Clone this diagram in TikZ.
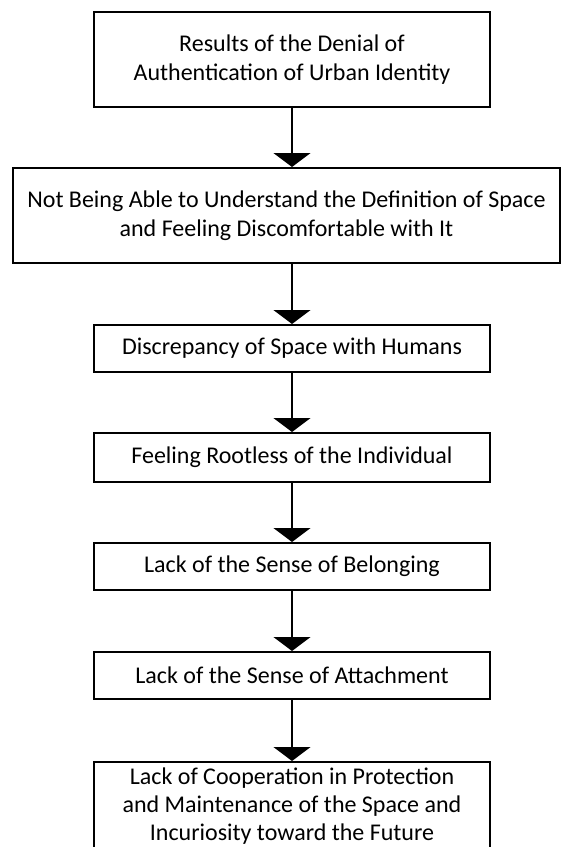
\documentclass[tikz,border=0pt]{standalone}
\usepackage{fontspec}
\setmainfont{Carlito}
\usetikzlibrary{arrows.meta}

\begin{document}
\begin{tikzpicture}[x=0.5pt,y=-0.5pt,
    box/.style={draw,line width=1pt,align=center,inner sep=0pt,
        minimum width=198pt,minimum height=24pt,font=\fontsize{12}{14.5}\selectfont},
    arr/.style={-{Triangle[width=18.5pt,length=7pt]},line width=0.7pt}]
    \useasboundingbox (0,0) rectangle (562,847);
    \clip (0,0) rectangle (562,847);
    \node[box,minimum height=47.5pt] (res) at (292,59.5) {Results of the Denial of\\Authentication of Urban Identity};
    \node[box,minimum width=273.5pt,minimum height=47.5pt] (space) at (286.5,215.5) {Not Being Able to Understand the Definition of Space\\and Feeling Discomfortable with It};
    \node[box,minimum height=23.5pt] (discr) at (292,348.5) {Discrepancy of Space with Humans};
    \node[box,minimum height=24.5pt] (root) at (292,457.5) {Feeling Rootless of the Individual};
    \node[box,minimum height=23.5pt] (belong) at (292,566.5) {Lack of the Sense of Belonging};
    \node[box,minimum height=23.5pt] (attach) at (292,675.5) {Lack of the Sense of Attachment};
    \node[box,anchor=north,inner ysep=3pt,font=\fontsize{12}{14}\selectfont] (coop) at (292,761) {Lack of Cooperation in Protection\\and Maintenance of the Space and\\Incuriosity toward the Future\rule[-30pt]{0pt}{0pt}};
    % arrows
    \draw[arr] (res) -- (res.south |- space.north);
    \draw[arr] (res.south |- space.south) -- (discr);
    \draw[arr] (discr) -- (root);
    \draw[arr] (root) -- (belong);
    \draw[arr] (belong) -- (attach);
    \draw[arr] (attach) -- (coop);
\end{tikzpicture}
\end{document}
